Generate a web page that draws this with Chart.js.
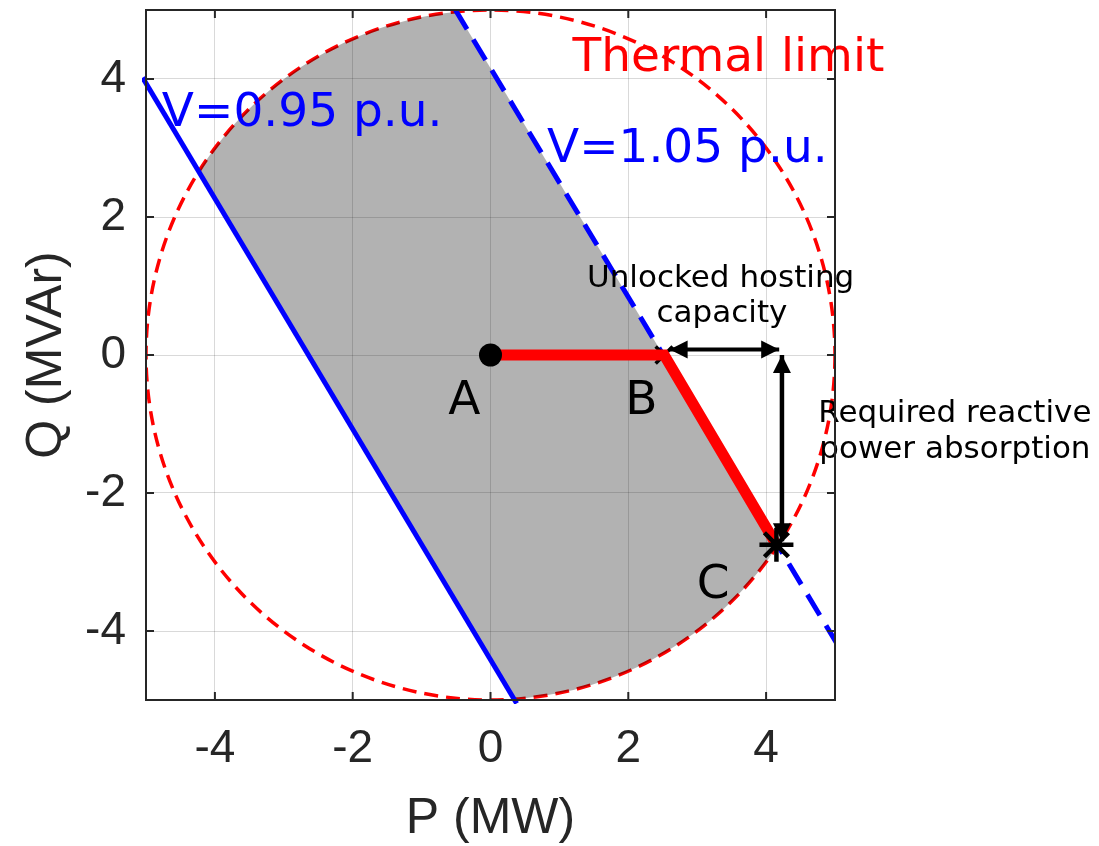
<!DOCTYPE html>
<html>
<head>
<meta charset="utf-8">
<script src="https://cdn.jsdelivr.net/npm/chart.js@4"></script>
<style>
  html, body { margin: 0; padding: 0; background: #fff; }
  canvas { display: block; }
</style>
</head>
<body>
<canvas id="pq" width="1099" height="846"></canvas>
<script>
// P-Q capability: thermal limit circle, voltage limit lines, A -> B -> C path
const TICKS = [-4, -2, 0, 2, 4];
const AXIS_MIN = -5;
const AXIS_MAX = 5;
const THERMAL_LIMIT = 5; // circle radius (MVA)

// voltage limit lines (end points)
const V095_P = [-5.05, 0.38];
const V095_Q = [4.02, -5.05];
const V105_P = [-0.52, 5.02];
const V105_Q = [5.02, -4.17];

// operating points A, B, C
const POINT_NAMES = ["A", "B", "C"];
const POINT_P = [0, 2.52, 4.15];
const POINT_Q = [0, 0, -2.75];
const NAME_P = [-0.38, 2.19, 3.23];
const NAME_Q = [-0.86, -0.86, -3.52];

// arrows
const HC_ARROW_P = [2.6, 4.19];
const HC_ARROW_Q = [0.08, 0.08];
const RQ_ARROW_P = [4.23, 4.23];
const RQ_ARROW_Q = [-2.7, 0.0];

const ANNOTATIONS = [
  { text: "Thermal limit", p: 1.19, q: 4.12, color: "#ff0000", size: 47, align: "left" },
  { text: "V=0.95 p.u.", p: -4.77, q: 3.32, color: "#0000ff", size: 47, align: "left" },
  { text: "V=1.05 p.u.", p: 0.82, q: 2.8, color: "#0000ff", size: 47, align: "left" },
  { text: "Unlocked hosting", p: 3.34, q: 0.98, color: "#000", size: 31, align: "center" },
  { text: "capacity", p: 3.36, q: 0.48, color: "#000", size: 31, align: "center" },
  { text: "Required reactive", p: 6.74, q: -0.97, color: "#000", size: 31, align: "center" },
  { text: "power absorption", p: 6.74, q: -1.49, color: "#000", size: 31, align: "center" },
];

const xy = (ps, qs) => ps.map((p, i) => ({ x: p, y: qs[i] }));
const AXIS_COLOR = "#262626";

// thermal circle + shaded feasible band (under the datasets)
const regionPlugin = {
  id: "region",
  beforeDatasetsDraw(chart) {
    const ctx = chart.ctx;
    const xs = chart.scales.x;
    const ys = chart.scales.y;
    const a = chart.chartArea;
    const cx = xs.getPixelForValue(0);
    const cy = ys.getPixelForValue(0);
    const rx = xs.getPixelForValue(THERMAL_LIMIT) - cx;
    const ry = cy - ys.getPixelForValue(THERMAL_LIMIT);

    ctx.save();
    ctx.beginPath();
    ctx.rect(a.left, a.top, a.right - a.left, a.bottom - a.top);
    ctx.clip();

    ctx.beginPath();
    ctx.ellipse(cx, cy, rx, ry, 0, 0, Math.PI * 2);
    ctx.setLineDash([14, 8]);
    ctx.lineWidth = 3.5;
    ctx.strokeStyle = "#ff0000";
    ctx.stroke();
    ctx.setLineDash([]);

    // band between the two voltage lines, cut by the circle
    ctx.beginPath();
    ctx.ellipse(cx, cy, rx, ry, 0, 0, Math.PI * 2);
    ctx.clip();
    const ext = (P, Q, t) => [
      xs.getPixelForValue(P[0] + t * (P[1] - P[0])),
      ys.getPixelForValue(Q[0] + t * (Q[1] - Q[0])),
    ];
    const pts = [
      ext(V095_P, V095_Q, -1),
      ext(V095_P, V095_Q, 2),
      ext(V105_P, V105_Q, 2),
      ext(V105_P, V105_Q, -1),
    ];
    ctx.beginPath();
    ctx.moveTo(pts[0][0], pts[0][1]);
    pts.slice(1).forEach((p) => ctx.lineTo(p[0], p[1]));
    ctx.closePath();
    ctx.fillStyle = "rgba(0,0,0,0.3)";
    ctx.fill();
    ctx.restore();
  },
};

// arrow heads on datasets flagged with arrow: true
const arrowPlugin = {
  id: "arrows",
  afterDatasetDraw(chart, args) {
    const ds = chart.data.datasets[args.index];
    if (!ds.arrow) return;
    const pts = args.meta.data;
    const ctx = chart.ctx;
    const head = (tip, from) => {
      const dx = tip.x - from.x;
      const dy = tip.y - from.y;
      const len = Math.hypot(dx, dy);
      const ux = dx / len;
      const uy = dy / len;
      const L = 18;
      const W = 9;
      ctx.beginPath();
      ctx.moveTo(tip.x, tip.y);
      ctx.lineTo(tip.x - ux * L - uy * W, tip.y - uy * L + ux * W);
      ctx.lineTo(tip.x - ux * L + uy * W, tip.y - uy * L - ux * W);
      ctx.closePath();
      ctx.fill();
    };
    ctx.save();
    ctx.fillStyle = ds.borderColor;
    head(pts[pts.length - 1], pts[0]);
    head(pts[0], pts[pts.length - 1]);
    ctx.restore();
  },
};

// text annotations in data coordinates
const textPlugin = {
  id: "texts",
  afterDatasetsDraw(chart) {
    const ctx = chart.ctx;
    const xs = chart.scales.x;
    const ys = chart.scales.y;
    ctx.save();
    ctx.textBaseline = "alphabetic";
    const put = (t) => {
      ctx.font = t.size + 'px "DejaVu Sans"';
      ctx.fillStyle = t.color;
      ctx.textAlign = t.align;
      ctx.fillText(t.text, xs.getPixelForValue(t.p), ys.getPixelForValue(t.q));
    };
    ANNOTATIONS.forEach(put);
    POINT_NAMES.forEach((n, i) =>
      put({ text: n, p: NAME_P[i], q: NAME_Q[i], color: "#000", size: 47, align: "center" })
    );
    ctx.restore();
  },
};

// MATLAB-like box with inward ticks
const boxPlugin = {
  id: "box",
  afterDraw(chart) {
    const ctx = chart.ctx;
    const a = chart.chartArea;
    const xs = chart.scales.x;
    const ys = chart.scales.y;
    const tl = 8;
    ctx.save();
    ctx.strokeStyle = AXIS_COLOR;
    ctx.lineWidth = 2;
    ctx.beginPath();
    ctx.rect(a.left, a.top, a.right - a.left, a.bottom - a.top);
    TICKS.forEach((v) => {
      const px = xs.getPixelForValue(v);
      ctx.moveTo(px, a.bottom);
      ctx.lineTo(px, a.bottom - tl);
      ctx.moveTo(px, a.top);
      ctx.lineTo(px, a.top + tl);
      const py = ys.getPixelForValue(v);
      ctx.moveTo(a.left, py);
      ctx.lineTo(a.left + tl, py);
      ctx.moveTo(a.right, py);
      ctx.lineTo(a.right - tl, py);
    });
    ctx.stroke();
    ctx.restore();
  },
};

const setTicks = (scale) => {
  scale.ticks = TICKS.map((v) => ({ value: v }));
};
const noPad = (s) => {
  s.paddingTop = 0;
  s.paddingBottom = 0;
  s.paddingLeft = 0;
  s.paddingRight = 0;
};
const tickFont = { family: '"Liberation Sans", Arial', size: 46 };
const titleFont = { family: '"Liberation Sans", Arial', size: 50, lineHeight: 1 };
const gridOpts = { color: "rgba(0,0,0,0.15)", lineWidth: 1, drawTicks: false };

new Chart(document.getElementById("pq"), {
  type: "scatter",
  data: {
    datasets: [
      {
        label: "V=0.95 p.u.",
        data: xy(V095_P, V095_Q),
        showLine: true,
        borderColor: "#0000ff",
        borderWidth: 5,
        pointRadius: 0,
        clip: 4,
        order: 9,
      },
      {
        label: "V=1.05 p.u.",
        data: xy(V105_P, V105_Q),
        showLine: true,
        borderColor: "#0000ff",
        borderWidth: 5,
        borderDash: [24, 12],
        pointRadius: 0,
        order: 8,
      },
      {
        label: "B",
        data: [{ x: POINT_P[1], y: POINT_Q[1] }],
        pointStyle: "crossRot",
        pointRadius: 12,
        borderColor: "#000",
        borderWidth: 3.5,
        order: 7,
      },
      {
        label: "Path",
        data: xy(POINT_P, POINT_Q),
        showLine: true,
        borderColor: "#ff0000",
        borderWidth: 11,
        pointRadius: 0,
        order: 6,
      },
      {
        label: "Hosting capacity",
        data: xy(HC_ARROW_P, HC_ARROW_Q),
        showLine: true,
        borderColor: "#000",
        borderWidth: 4,
        pointRadius: 0,
        arrow: true,
        order: 5,
      },
      {
        label: "Reactive power",
        data: xy(RQ_ARROW_P, RQ_ARROW_Q),
        showLine: true,
        borderColor: "#000",
        borderWidth: 4.5,
        pointRadius: 0,
        arrow: true,
        order: 4,
      },
      {
        label: "A",
        data: [{ x: POINT_P[0], y: POINT_Q[0] }],
        pointStyle: "circle",
        pointRadius: 11.5,
        backgroundColor: "#000",
        borderColor: "#000",
        borderWidth: 0,
        order: 2,
      },
      {
        label: "C",
        data: [{ x: POINT_P[2], y: POINT_Q[2] }],
        pointStyle: "star",
        pointRadius: 17,
        borderColor: "#000",
        borderWidth: 4.5,
        order: 1,
      },
    ],
  },
  options: {
    responsive: false,
    animation: false,
    events: [],
    layout: { autoPadding: false, padding: { top: 10, right: 264, left: 0, bottom: 0 } },
    plugins: { legend: { display: false }, tooltip: { enabled: false } },
    scales: {
      x: {
        type: "linear",
        min: AXIS_MIN,
        max: AXIS_MAX,
        afterBuildTicks: setTicks,
        afterFit: (s) => {
          s.height = 146;
          noPad(s);
        },
        grid: gridOpts,
        border: { display: false },
        ticks: { font: tickFont, color: AXIS_COLOR, padding: 22 },
        title: {
          display: true,
          text: "P (MW)",
          font: titleFont,
          color: AXIS_COLOR,
          padding: { top: 0, bottom: 2 },
        },
      },
      y: {
        type: "linear",
        min: AXIS_MIN,
        max: AXIS_MAX,
        afterBuildTicks: setTicks,
        afterFit: (s) => {
          s.width = 146;
          noPad(s);
        },
        grid: gridOpts,
        border: { display: false },
        ticks: { font: tickFont, color: AXIS_COLOR, padding: 20 },
        title: {
          display: true,
          text: "Q (MVAr)",
          font: titleFont,
          color: AXIS_COLOR,
          padding: { top: 22, bottom: 0 },
        },
      },
    },
  },
  plugins: [regionPlugin, arrowPlugin, textPlugin, boxPlugin],
});
</script>
</body>
</html>
